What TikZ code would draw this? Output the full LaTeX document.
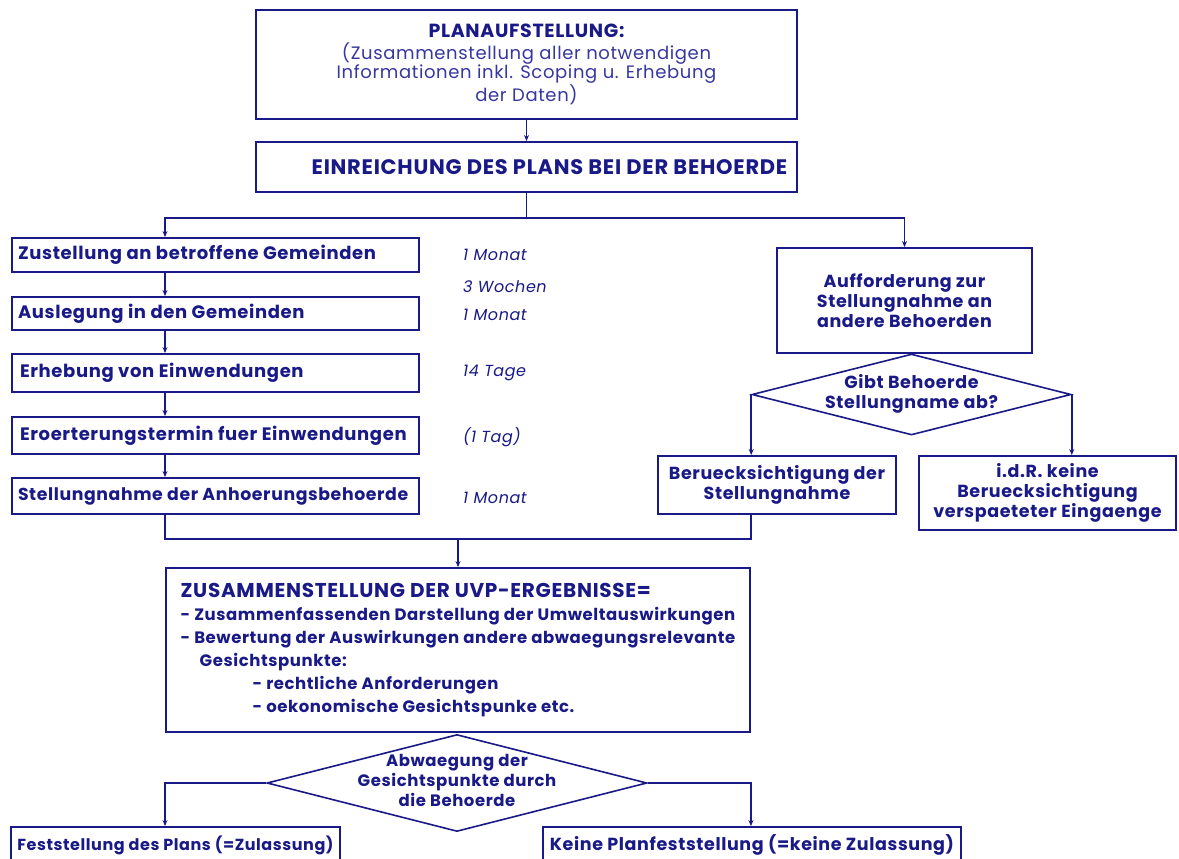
\documentclass[tikz,border=0pt]{standalone}
\usepackage{fontspec}
\setmainfont{Poppins}[LetterSpace=3.5]
\usetikzlibrary{shapes.geometric,arrows.meta,calc}
\definecolor{navy}{RGB}{25,25,135}
\definecolor{lnavy}{RGB}{55,55,160}
\newcommand\ctext[1]{\makebox[0pt]{\raisebox{-0.25em}[0pt][0pt]{\begin{tabular}[c]{@{}c@{}}#1\end{tabular}}}}
\newcommand\lt[1]{{\mdseries\fontsize{18}{19}\selectfont\color{lnavy}#1}}
\newcommand\ltext[1]{\makebox[395pt][l]{#1}}
\begin{document}
\begin{tikzpicture}[x=1pt,y=-1pt,
  every node/.style={text=navy, font=\bfseries\fontsize{18}{20}\selectfont},
  box/.style={draw=navy, line width=1.9pt, inner sep=0pt, align=center},
  lbox/.style={box, minimum width=407pt},
  dia/.style={draw=navy, line width=1.6pt, shape=diamond, inner sep=0pt},
  line/.style={draw=navy, line width=1.9pt},
  arr/.style={line, -{Stealth[length=6pt,width=5pt]}},
  rtext/.style={font=\bfseries\fontsize{17.5}{20}\selectfont},
  lbl/.style={font=\itshape\fontsize{16}{18}\selectfont, anchor=west, inner sep=0pt}]
\useasboundingbox (0,0) rectangle (1179,859);
\fill[white] (0,0) rectangle (1179,859);

\node[box, minimum width=541pt, minimum height=109pt, font=\bfseries\fontsize{19}{19}\selectfont] (plan) at (526.5,64.5)
  {PLANAUFSTELLUNG:\\[3pt]\lt{(Zusammenstellung aller notwendigen}\\\lt{Informationen inkl. Scoping u. Erhebung}\\\lt{der Daten)}};
\node[box, minimum width=541pt, minimum height=50pt, font=\bfseries\fontsize{21}{24}\selectfont] (einr) at (526.5,167)
  {\hspace*{46pt}EINREICHUNG DES PLANS BEI DER BEHOERDE};

\node[lbox, minimum height=34pt] (l1) at (215.5,255) {\ltext{Zustellung an betroffene Gemeinden}};
\node[lbox, minimum height=33pt] (l2) at (215.5,313.5) {\ltext{Auslegung in den Gemeinden}};
\node[lbox, minimum height=38pt] (l3) at (215.5,373) {\ltext{\hspace*{2pt}Erhebung von Einwendungen}};
\node[lbox, minimum height=37pt] (l4) at (215.5,435.5) {\ltext{\hspace*{2pt}Eroerterungstermin fuer Einwendungen}};
\node[lbox, minimum height=36pt, font=\bfseries\fontsize{17.3}{20}\selectfont] (l5) at (215.5,496) {\ltext{Stellungnahme der Anhoerungsbehoerde}};

\node[lbl] (t1) at (463,255) {1 Monat};
\node[lbl] (t2) at (463,287) {3 Wochen};
\node[lbl] (t3) at (463,315) {1 Monat};
\node[lbl] (t4) at (463,373) {14 Tage};
\node[lbl] (t5) at (463,437) {(1 Tag)};
\node[lbl] (t6) at (463,498) {1 Monat};

\node[box, rtext, minimum width=255pt, minimum height=105pt] (auff) at (904.5,300.5)
  {Aufforderung zur\\Stellungnahme an\\andere Behoerden};
\node[dia, rtext, minimum width=319pt, minimum height=81pt] (d1) at (911.5,394.5)
  {\ctext{Gibt Behoerde\\Stellungname ab?}};
\node[box, rtext, minimum width=238pt, minimum height=58pt] (berue) at (777,485)
  {Beruecksichtigung der\\Stellungnahme};
\node[box, rtext, minimum width=257pt, minimum height=74pt] (idr) at (1047.5,493)
  {i.d.R. keine\\Beruecksichtigung\\verspaeteter Eingaenge};

\node[box, minimum width=584pt, minimum height=164pt, align=left,
  font=\bfseries\fontsize{16.5}{23}\selectfont] (zus) at (458,650)
  {{\fontsize{20}{23}\selectfont ZUSAMMENSTELLUNG DER UVP-ERGEBNISSE=}\\
   - Zusammenfassenden Darstellung der Umweltauswirkungen\\
   - Bewertung der Auswirkungen andere abwaegungsrelevante\\
   \hspace*{19pt}Gesichtspunkte:\\
   \hspace*{72pt}- rechtliche Anforderungen\\
   \hspace*{72pt}- oekonomische Gesichtspunke etc.};
\node[dia, minimum width=380pt, minimum height=97pt, font=\bfseries\fontsize{16.5}{20}\selectfont] (d2) at (457,783)
  {\ctext{Abwaegung der\\Gesichtspunkte durch\\die Behoerde}};
\node[box, minimum width=329pt, minimum height=36pt, font=\bfseries\fontsize{16}{19}\selectfont] (fest) at (175.5,845)
  {Feststellung des Plans (=Zulassung)};
\node[box, minimum width=418pt, minimum height=36pt, font=\bfseries\fontsize{17.5}{19}\selectfont] (keine) at (752,845)
  {Keine Planfeststellung (=keine Zulassung)};

\coordinate (cx) at (165,0);
\coordinate (j1) at ($(einr.south)+(0,25)$);
\coordinate (j2) at ($(zus.north)+(0,-28)$);

\draw[arr] (plan.south) -- (einr.north);
\draw[line] (einr.south) -- (j1);
\draw[arr] (j1) -| (l1.north -| cx);
\draw[arr] (j1) -| (auff.north);
\draw[arr] (l1.south -| cx) -- (l2.north -| cx);
\draw[arr] (l2.south -| cx) -- (l3.north -| cx);
\draw[arr] (l3.south -| cx) -- (l4.north -| cx);
\draw[arr] (l4.south -| cx) -- (l5.north -| cx);
\draw[arr] (d1.west) -- (berue.north -| d1.west);
\draw[arr] (d1.east) -- (idr.north -| d1.east);
\draw[line] (l5.south -| cx) -- (cx |- j2) -- (j2 -| d1.west) -- (berue.south -| d1.west);
\draw[arr] (j2) -- (zus.north);
\draw[arr] (d2.west) -| (fest.north -| cx);
\draw[arr] (d2.east) -| (keine.north -| zus.east);
\end{tikzpicture}
\end{document}
